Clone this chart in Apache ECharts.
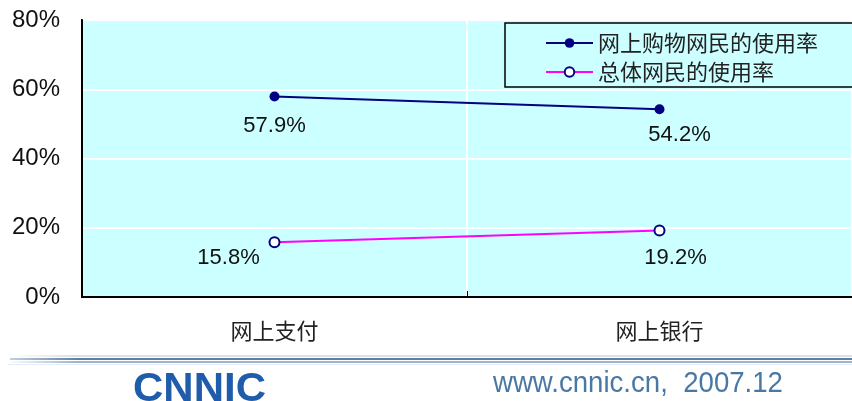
<!DOCTYPE html>
<html>
<head>
<meta charset="utf-8">
<script src="https://cdn.jsdelivr.net/npm/echarts@6/dist/echarts.min.js"></script>
<style>
  html, body { margin: 0; padding: 0; background: #fff; }
  #main { width: 852px; height: 401px; }
</style>
</head>
<body>
<div id="main"></div>
<script>
// 网上支付 / 网上银行 使用率
const categories = ['网上支付', '网上银行'];
const shopperRate = [57.9, 54.2];   // 网上购物网民的使用率
const overallRate = [15.8, 19.2];   // 总体网民的使用率
const yTicks = [0, 20, 40, 60, 80];

// label offsets per point (relative to symbol centre)
const shopperOffsets = [[0, 29], [20, 26]];
const overallOffsets = [[-46, 16], [16, 27]];

const cjk = '"Noto Sans CJK SC", "Noto Sans", sans-serif';
const latin = 'Arial, "Liberation Sans", sans-serif';

function withLabels(values, offsets) {
  return values.map((v, i) => ({
    value: v,
    label: { offset: offsets[i] }
  }));
}

const chart = echarts.init(document.getElementById('main'));
chart.setOption({
  animation: false,
  backgroundColor: '#fff',
  grid: {
    left: 82, top: 20, right: -4, bottom: 104,
    show: true,
    backgroundColor: '#ccffff',
    borderColor: '#000',
    borderWidth: 2
  },
  legend: {
    orient: 'vertical',
    left: 505, top: 23,
    padding: [9, 60, 4, 40],
    backgroundColor: '#ccffff',
    borderColor: '#000',
    borderWidth: 1.5,
    borderRadius: 0,
    itemWidth: 47, itemHeight: 12,
    itemGap: 7,
    textStyle: { fontFamily: cjk, fontSize: 22, lineHeight: 22, color: '#222' }
  },
  xAxis: {
    type: 'category',
    data: categories,
    boundaryGap: true,
    axisLine: { lineStyle: { color: '#000', width: 2 } },
    axisTick: { show: true, inside: true, length: 6, lineStyle: { color: '#000' } },
    axisLabel: { fontFamily: cjk, fontSize: 22, color: '#222', margin: 23 },
    splitLine: { show: true, lineStyle: { color: '#fff', width: 2 } }
  },
  yAxis: {
    type: 'value',
    min: yTicks[0], max: yTicks[yTicks.length - 1], interval: 20,
    axisLine: { show: true, lineStyle: { color: '#000', width: 2 } },
    axisTick: { show: false },
    axisLabel: { formatter: '{value}%', fontFamily: latin, fontSize: 24, color: '#111', margin: 22 },
    splitLine: { lineStyle: { color: '#fff', width: 2 } }
  },
  series: [
    {
      name: '网上购物网民的使用率',
      type: 'line',
      data: withLabels(shopperRate, shopperOffsets),
      symbol: 'circle',
      symbolSize: 10,
      lineStyle: { color: '#000080', width: 2 },
      itemStyle: { color: '#000080' },
      label: { show: true, position: 'inside', formatter: '{c}%', fontFamily: latin, fontSize: 22, color: '#111' }
    },
    {
      name: '总体网民的使用率',
      type: 'line',
      data: withLabels(overallRate, overallOffsets),
      symbol: 'circle',
      symbolSize: 10,
      lineStyle: { color: '#ff00ff', width: 2 },
      itemStyle: { color: '#fff', borderColor: '#000080', borderWidth: 2 },
      label: { show: true, position: 'inside', formatter: '{c}%', fontFamily: latin, fontSize: 22, color: '#111' }
    }
  ],
  graphic: [
    { type: 'rect', shape: { x: 8, y: 355, width: 850, height: 2 },
      style: { fill: new echarts.graphic.LinearGradient(0, 0, 1, 0, [{ offset: 0, color: '#ffffff' }, { offset: 0.08, color: '#d6e2f0' }, { offset: 1, color: '#d6e2f0' }]) } },
    { type: 'rect', shape: { x: 10, y: 358, width: 850, height: 2 },
      style: { fill: new echarts.graphic.LinearGradient(0, 0, 1, 0, [{ offset: 0, color: '#c0cfe0' }, { offset: 0.08, color: '#5f7f9f' }, { offset: 1, color: '#5f7f9f' }]) } },
    { type: 'rect', shape: { x: 8, y: 361, width: 850, height: 2 },
      style: { fill: new echarts.graphic.LinearGradient(0, 0, 1, 0, [{ offset: 0, color: '#ffffff' }, { offset: 0.08, color: '#9fb4cc' }, { offset: 1, color: '#9fb4cc' }]) } },
    { type: 'rect', shape: { x: 8, y: 364, width: 850, height: 1 },
      style: { fill: '#e4ecf5' } },
    { type: 'text', x: 133, y: 370, scaleX: 1.05,
      style: { text: 'CNNIC', font: 'bold 40px Arial, "Liberation Sans", sans-serif', fill: '#1f5cab' } },
    { type: 'text', x: 493, y: 369, scaleX: 0.92,
      style: { text: 'www.cnnic.cn,  2007.12', font: '30px "Liberation Sans", Arial, sans-serif', fill: '#4a78a4' } }
  ]
});
</script>
</body>
</html>
